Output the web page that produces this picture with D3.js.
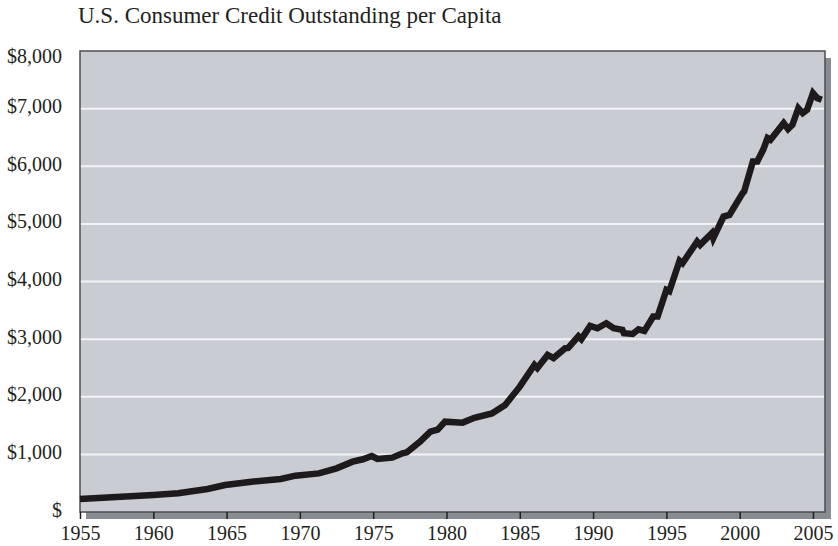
<!DOCTYPE html>
<html>
<head>
<meta charset="utf-8">
<script src="https://cdn.jsdelivr.net/npm/d3@7"></script>
<style>
  body { margin: 0; background: #fff; }
  text { font-family: "Liberation Serif", "Times New Roman", serif; fill: #231f20; }
</style>
</head>
<body>
<div id="chart"></div>
<script>
// per capita consumer credit (year, dollars)
const years = [1955.0, 1957.8, 1960.0, 1961.7, 1963.7, 1964.9, 1966.7, 1968.7, 1969.7, 1971.3,
  1972.5, 1973.6, 1974.3, 1974.9, 1975.3, 1976.3, 1977.0, 1977.3, 1978.2, 1978.9,
  1979.4, 1979.9, 1981.1, 1981.9, 1983.1, 1984.0, 1985.0, 1986.0, 1986.2, 1986.9,
  1987.3, 1988.1, 1988.3, 1989.0, 1989.2, 1989.8, 1990.3, 1990.9, 1991.4, 1992.0,
  1992.1, 1992.7, 1993.1, 1993.5, 1994.1, 1994.4, 1995.0, 1995.2, 1995.9, 1996.1,
  1997.1, 1997.3, 1998.1, 1998.2, 1998.9, 1999.3, 2000.2, 2000.3, 2000.9, 2001.2,
  2001.6, 2001.9, 2002.1, 2003.0, 2003.3, 2003.6, 2004.0, 2004.3, 2004.6, 2005.0,
  2005.3, 2005.6];
const credit = [226, 266, 295, 325, 400, 469, 526, 573, 630, 670,
  758, 873, 915, 972, 920, 943, 1019, 1036, 1221, 1394,
  1430, 1568, 1551, 1635, 1710, 1858, 2175, 2552, 2497, 2725,
  2672, 2842, 2847, 3050, 3000, 3229, 3189, 3275, 3189, 3160,
  3102, 3090, 3171, 3142, 3391, 3391, 3854, 3830, 4360, 4317,
  4693, 4635, 4838, 4751, 5127, 5156, 5533, 5561, 6082, 6082,
  6285, 6488, 6458, 6748, 6644, 6719, 7008, 6922, 6979, 7269,
  7182, 7153];
const xTicks = [1955, 1960, 1965, 1970, 1975, 1980, 1985, 1990, 1995, 2000, 2005];
const yTicks = [0, 1000, 2000, 3000, 4000, 5000, 6000, 7000, 8000];
const title = "U.S. Consumer Credit Outstanding per Capita";

const width = 838, height = 546;
const plotLeft = 80, plotRight = 825, plotTop = 51, plotBottom = 512;

const svg = d3.select("#chart").append("svg")
  .attr("width", width)
  .attr("height", height);

const x = d3.scaleLinear().domain([1955, 2005.82]).range([plotLeft, plotRight]);
const y = d3.scaleLinear().domain([0, 8000]).range([plotBottom, plotTop]);

// drop shadow then the grey panel
svg.append("rect")
  .attr("x", plotLeft + 6).attr("y", plotTop + 7)
  .attr("width", plotRight - plotLeft).attr("height", plotBottom - plotTop)
  .attr("fill", "#878d93");
svg.append("rect")
  .attr("x", plotLeft).attr("y", plotTop)
  .attr("width", plotRight - plotLeft).attr("height", plotBottom - plotTop)
  .attr("fill", "#c9ccd3");

// white gridlines
svg.append("g")
  .selectAll("line")
  .data(yTicks.filter(d => d > 0 && d < 8000))
  .join("line")
  .attr("x1", plotLeft).attr("x2", plotRight)
  .attr("y1", d => y(d)).attr("y2", d => y(d))
  .attr("stroke", "#f2f3f5")
  .attr("stroke-width", 2);

// panel border
svg.append("rect")
  .attr("x", plotLeft).attr("y", plotTop)
  .attr("width", plotRight - plotLeft).attr("height", plotBottom - plotTop)
  .attr("fill", "none")
  .attr("stroke", "#4d4d4f")
  .attr("stroke-width", 1.5);

// x axis ticks and labels
const xAxis = d3.axisBottom(x).tickValues(xTicks).tickSize(7).tickPadding(7).tickFormat(d3.format("d"));
const gx = svg.append("g")
  .attr("transform", `translate(0,${plotBottom})`)
  .call(xAxis);
gx.select(".domain").remove();
gx.selectAll(".tick line").attr("stroke", "#231f20").attr("stroke-width", 1.5);
gx.selectAll(".tick text")
  .attr("font-family", "Liberation Serif, serif")
  .attr("font-size", 20)
  .attr("fill", "#231f20");

// y labels
const gy = svg.append("g")
  .call(d3.axisLeft(y).tickValues(yTicks).tickSize(0).tickPadding(18)
    .tickFormat(d => d === 0 ? "$" : "$" + d3.format(",")(d)))
  .attr("transform", `translate(${plotLeft},0)`);
gy.select(".domain").remove();
gy.selectAll(".tick text")
  .attr("font-family", "Liberation Serif, serif")
  .attr("font-size", 20)
  .attr("fill", "#231f20")
  .attr("dy", d => d === 8000 ? "0.55em" : "0.2em");

// the series
const line = d3.line()
  .x((d, i) => x(years[i]))
  .y(d => y(d));
svg.append("path")
  .datum(credit)
  .attr("d", line)
  .attr("fill", "none")
  .attr("stroke", "#1e1a1b")
  .attr("stroke-width", 6.5)
  .attr("stroke-linejoin", "miter");

// title
svg.append("text")
  .attr("x", 78)
  .attr("y", 23)
  .attr("font-size", 23)
  .text(title);
</script>
</body>
</html>
